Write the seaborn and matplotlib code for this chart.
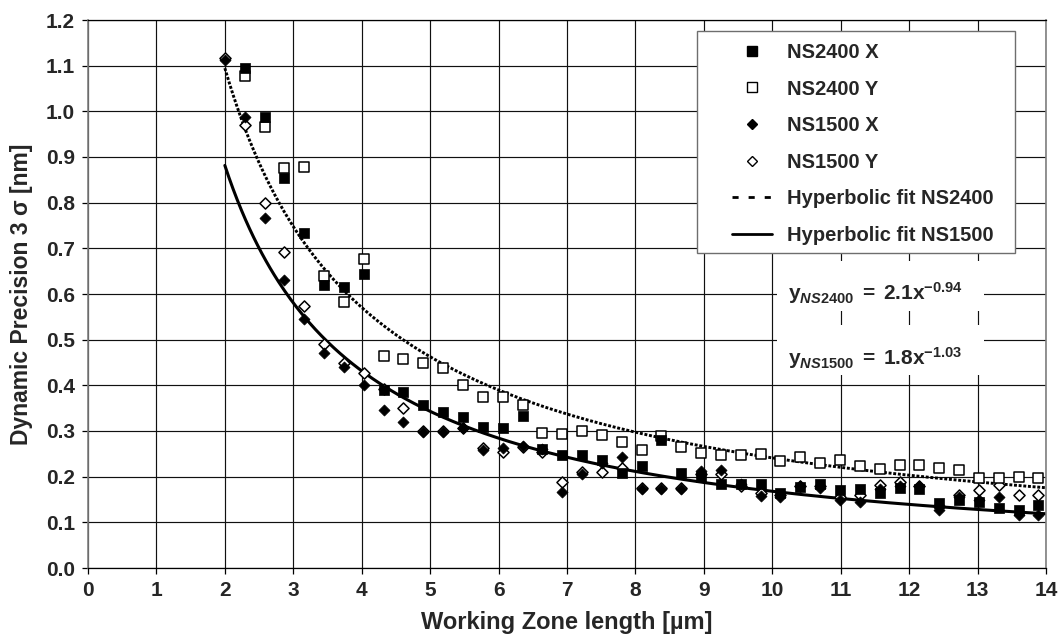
import numpy as np
import pandas as pd
import matplotlib
matplotlib.use("Agg")
import matplotlib.pyplot as plt
from matplotlib.lines import Line2D
from matplotlib.patches import Rectangle
import seaborn as sns

# ---------------- data ----------------
x_sq = [2.29, 2.58, 2.87, 3.16, 3.45, 3.74, 4.03, 4.32, 4.61, 4.90, 5.19, 5.48, 5.77, 6.06,
        6.35, 6.64, 6.93, 7.22, 7.51, 7.80, 8.09, 8.38, 8.67, 8.96, 9.25, 9.54, 9.83, 10.12,
        10.41, 10.70, 10.99, 11.28, 11.57, 11.86, 12.15, 12.44, 12.73, 13.02, 13.31, 13.60, 13.89]
x_dia = [2.00] + x_sq

ns2400_x = [1.095, 0.987, 0.853, 0.733, 0.620, 0.616, 0.644, 0.390, 0.386, 0.358, 0.341, 0.330,
            0.309, 0.306, 0.333, 0.260, 0.247, 0.247, 0.236, 0.207, 0.223, 0.280, 0.207, 0.199,
            0.184, 0.183, 0.184, 0.165, 0.178, 0.185, 0.171, 0.172, 0.165, 0.175, 0.172, 0.142,
            0.148, 0.145, 0.131, 0.127, 0.138]
ns2400_y = [1.077, 0.965, 0.875, 0.879, 0.640, 0.583, 0.677, 0.465, 0.457, 0.448, 0.439, 0.400,
            0.374, 0.375, 0.358, 0.296, 0.293, 0.301, 0.291, 0.277, 0.258, 0.290, 0.266, 0.252,
            0.247, 0.247, 0.250, 0.234, 0.242, 0.231, 0.236, 0.223, 0.217, 0.226, 0.226, 0.220,
            0.215, 0.196, 0.196, 0.200, 0.196]
ns1500_x = [1.113, 0.987, 0.767, 0.631, 0.545, 0.470, 0.441, 0.400, 0.347, 0.319, 0.298, 0.298,
            0.307, 0.258, 0.263, 0.268, 0.260, 0.167, 0.205, 0.230, 0.242, 0.172, 0.172, 0.172,
            0.213, 0.215, 0.185, 0.158, 0.155, 0.180, 0.175, 0.149, 0.145, 0.172, 0.180, 0.180,
            0.127, 0.155, 0.150, 0.156, 0.116, 0.116]
ns1500_y = [1.116, 0.969, 0.800, 0.691, 0.574, 0.490, 0.450, 0.428, 0.392, 0.350, 0.300, 0.300,
            0.307, 0.262, 0.254, 0.265, 0.255, 0.189, 0.210, 0.211, 0.220, 0.175, 0.175, 0.175,
            0.205, 0.205, 0.180, 0.165, 0.160, 0.180, 0.180, 0.155, 0.160, 0.182, 0.188, 0.180,
            0.135, 0.160, 0.171, 0.182, 0.160, 0.160]

# hyperbolic fits  y = a * x^b  (as printed on the chart)
fit_ns2400 = (2.1, -0.94)
fit_ns1500 = (1.8, -1.03)
fit_range = (2.0, 14.0)

legend_labels = ["NS2400 X", "NS2400 Y", "NS1500 X", "NS1500 Y",
                 "Hyperbolic fit NS2400", "Hyperbolic fit NS1500"]
x_ticks = list(range(0, 15))
y_ticks = [0.0, 0.1, 0.2, 0.3, 0.4, 0.5, 0.6, 0.7, 0.8, 0.9, 1.0, 1.1, 1.2]

# ---------------- style ----------------
sns.set_style("white")
plt.rcParams["font.family"] = ["Liberation Sans", "DejaVu Sans"]
plt.rcParams["font.weight"] = "bold"
plt.rcParams["mathtext.fontset"] = "custom"
plt.rcParams["mathtext.rm"] = "Liberation Sans:bold"
plt.rcParams["mathtext.it"] = "Liberation Sans:italic:bold"
plt.rcParams["mathtext.bf"] = "Liberation Sans:bold"

W, H = 1064, 635
fig = plt.figure(figsize=(W / 100, H / 100), dpi=100)
L, R, T, B = 88, 1046, 20, 568
ax = fig.add_axes([L / W, 1 - B / H, (R - L) / W, (B - T) / H])

# fits
xf = np.linspace(fit_range[0], fit_range[1], 400)
df_fit = pd.DataFrame({"x": xf,
                       "y24": fit_ns2400[0] * xf ** fit_ns2400[1],
                       "y15": fit_ns1500[0] * xf ** fit_ns1500[1]})
sns.lineplot(data=df_fit, x="x", y="y24", ax=ax, color="black", lw=2.1,
             linestyle=(0, (1.0, 0.6)), zorder=2.5, sort=False)
sns.lineplot(data=df_fit, x="x", y="y15", ax=ax, color="black", lw=2.2,
             linestyle="-", zorder=2.5, sort=False)

# markers (open series underneath filled ones)
sq_size = 55
dia_size = 32
sns.scatterplot(x=x_dia, y=ns1500_y, ax=ax, marker="D", s=dia_size, color="white",
                edgecolor="black", linewidth=1.1, zorder=3)
sns.scatterplot(x=x_sq, y=ns2400_y, ax=ax, marker="s", s=sq_size, color="white",
                edgecolor="black", linewidth=1.1, zorder=3.1)
sns.scatterplot(x=x_dia, y=ns1500_x, ax=ax, marker="D", s=dia_size, color="black",
                edgecolor="black", linewidth=0.5, zorder=3.2)
sns.scatterplot(x=x_sq, y=ns2400_x, ax=ax, marker="s", s=sq_size, color="black",
                edgecolor="black", linewidth=0.5, zorder=3.3)

# axes
ax.set_xlim(0, 14)
ax.set_ylim(0, 1.2)
ax.set_xticks(x_ticks)
ax.set_yticks(y_ticks)
ax.set_yticklabels([f"{v:.1f}" for v in y_ticks])
ax.grid(True, color="#111111", lw=0.85)
ax.set_axisbelow(True)
for side in ["top", "bottom"]:
    ax.spines[side].set_color("black")
    ax.spines[side].set_linewidth(0.9)
for side in ["left", "right"]:
    ax.spines[side].set_color("#7f7f7f")
    ax.spines[side].set_linewidth(1.2)
ax.tick_params(axis="both", direction="out", length=4, width=0.9, color="black",
               labelsize=15, pad=5.5, bottom=True, left=True)
for lab in ax.get_xticklabels() + ax.get_yticklabels():
    lab.set_fontweight("bold")
ax.set_xlabel("Working Zone length [µm]", fontsize=17, fontweight="bold", labelpad=8)
ax.set_ylabel("Dynamic Precision 3 σ [nm]", fontsize=16.5, fontweight="bold", labelpad=9)

# legend frame + frameless legend
axw, axh = R - L, B - T
def ax_x(px):
    return (px - L) / axw
def ax_y(py):
    return (B - py) / axh

frame = Rectangle((ax_x(697), ax_y(253)), ax_x(1015) - ax_x(697), ax_y(31) - ax_y(253),
                  transform=ax.transAxes, facecolor="white", edgecolor="#6e6e6e",
                  lw=1.0, zorder=6)
ax.add_patch(frame)

handles = [
    Line2D([], [], ls="none", marker="s", ms=7.2, mfc="black", mec="black"),
    Line2D([], [], ls="none", marker="s", ms=7.2, mfc="white", mec="black", mew=1.0),
    Line2D([], [], ls="none", marker="D", ms=5.5, mfc="black", mec="black"),
    Line2D([], [], ls="none", marker="D", ms=5.5, mfc="white", mec="black", mew=1.0),
    Line2D([], [], color="black", lw=2.0, ls=(0, (2.2, 3.6))),
    Line2D([], [], color="black", lw=2.0, ls="-"),
]
leg = ax.legend(handles, legend_labels, loc="upper left",
                bbox_to_anchor=(732 / W, 1 - 43 / H), bbox_transform=fig.transFigure,
                frameon=False, borderpad=0, borderaxespad=0, handlelength=2.0,
                handletextpad=0.75, labelspacing=0.87, prop={"size": 14.5, "weight": "bold"})
leg.set_zorder(7)

# equation boxes
for (y0, y1) in [(261, 311), (325, 375)]:
    ax.add_patch(Rectangle((ax_x(777), ax_y(y1)), ax_x(984) - ax_x(777), ax_y(y0) - ax_y(y1),
                           transform=ax.transAxes, facecolor="white", edgecolor="none",
                           zorder=4))
ax.text(ax_x(788), ax_y(293), r"$\mathrm{y}_{\mathit{NS2400}}\;=\;\mathrm{2.1x}^{-0.94}$",
        transform=ax.transAxes, fontsize=15, va="center", ha="left", zorder=5)
ax.text(ax_x(788), ax_y(358), r"$\mathrm{y}_{\mathit{NS1500}}\;=\;\mathrm{1.8x}^{-1.03}$",
        transform=ax.transAxes, fontsize=15, va="center", ha="left", zorder=5)

fig.savefig("out.png", dpi=100, facecolor="white")
